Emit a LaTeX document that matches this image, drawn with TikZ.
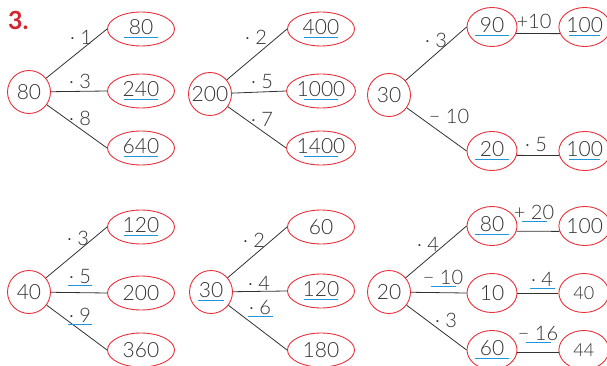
\documentclass[tikz,border=0pt]{standalone}
\usepackage{fontspec}
\setmainfont{Lato}[UprightFont=* Light, BoldFont=* Bold]
\usepackage{xcolor}
\usepackage{tikz}
\usetikzlibrary{positioning,shapes.geometric}

\definecolor{ovalred}{RGB}{232,48,58}
\definecolor{lineblue}{RGB}{30,150,222}
\definecolor{ink}{RGB}{50,50,50}
\definecolor{numred}{RGB}{212,36,48}

% answer written on a blue blank line
\newcommand{\ans}[2][34pt]{\leavevmode\ooalign{#2\cr\hidewidth\textcolor{lineblue}{\rule[-3.2pt]{#1}{1.2pt}}\hidewidth\cr}}

\begin{document}
\begin{tikzpicture}[x=1pt, y=-1pt,
  font=\fontsize{21}{25}\selectfont, text=ink,
  root/.style={draw=ovalred, circle, minimum size=43pt, inner sep=0pt, line width=0.9pt},
  kid/.style={draw=ovalred, ellipse, minimum width=67pt, minimum height=34pt,
              inner sep=0pt, line width=0.9pt},
  slim/.style={kid, minimum width=50pt, minimum height=39pt},
  op/.style={anchor=base, inner sep=0pt, font=\fontsize{20}{24}\selectfont},
  ln/.style={draw=ink, line width=0.8pt},
]
  \useasboundingbox (0,0) rectangle (607,366);

  \node[anchor=base west, inner sep=0pt, text=numred,
        font=\fontsize{25}{30}\selectfont\bfseries] (num) at (8,30) {3.};

  % 80
  \node[root] (a) at (29,92) {80};
  \node[kid] (a1) at (141,29) {\ans{80}};
  \node[kid] (a2) at (141,91) {\ans{240}};
  \node[kid] (a3) at (141,148) {\ans{640}};
  \draw[ln] (a) -- (a1.west);
  \draw[ln] (a) -- (a2.west);
  \draw[ln] (a) -- (a3.west);
  \node[op] (a1l) at (81,45) {· 1};
  \node[op] (a2l) at (80,89) {· 3};
  \node[op] (a3l) at (80,126) {· 8};

  % 200
  \node[root] (b) at (210,94) {200};
  \node[kid] (b1) at (321,29) {\ans{400}};
  \node[kid] (b2) at (321,91) {\ans{1000}};
  \node[kid] (b3) at (321,148) {\ans{1400}};
  \draw[ln] (b) -- (b1.west);
  \draw[ln] (b) -- (b2.west);
  \draw[ln] (b) -- (b3.west);
  \node[op] (b1l) at (256,45) {· 2};
  \node[op] (b2l) at (262,89) {· 5};
  \node[op] (b3l) at (262,127) {· 7};

  % 30 -> 90, 20
  \node[root] (c) at (389,95) {30};
  \node[slim] (c1) at (492,27) {\ans{90}};
  \node[slim, right=41pt of c1] (c11) {\ans[31pt]{100}};
  \node[slim] (c2) at (492,151) {\ans{20}};
  \node[slim, right=41pt of c2] (c21) {\ans[31pt]{100}};
  \draw[ln] (c) -- (c1.west);
  \draw[ln] (c) -- (c2.west);
  \draw[ln] (c1.-15) -- (c11.195);
  \draw[ln] (c2.-10) -- (c21.190);
  \node[op] (c1l) at (436,48) {· 3};
  \node[op] (c2l) at (449,124) {− 10};
  \node[op] (c11l) at (534,29) {+10};
  \node[op] (c21l) at (536,152) {· 5};

  % 40
  \node[root] (d) at (29,292) {40};
  \node[kid] (d1) at (141,227) {\ans{120}};
  \node[kid] (d2) at (141,293) {200};
  \node[kid] (d3) at (141,350) {360};
  \draw[ln] (d) -- (d1.west);
  \draw[ln] (d) -- (d2.west);
  \draw[ln] (d) -- (d3.west);
  \node[op] (d1l) at (78,245) {· 3};
  \node[op] (d2l) at (80,283) {\ans[24pt]{· 5}};
  \node[op] (d3l) at (80,322) {\ans[24pt]{· 9}};

  % 30 -> 60, 120, 180
  \node[root] (e) at (211,292) {\ans[26pt]{30}};
  \node[kid] (e1) at (321,227) {60};
  \node[kid] (e2) at (321,291) {\ans{120}};
  \node[kid] (e3) at (321,350) {180};
  \draw[ln] (e) -- (e1.west);
  \draw[ln] (e) -- (e2.west);
  \draw[ln] (e) -- (e3.west);
  \node[op] (e1l) at (254,247) {· 2};
  \node[op] (e2l) at (259,290) {· 4};
  \node[op] (e3l) at (260,314) {\ans[25pt]{· 6}};

  % 20
  \node[root] (f) at (389,292) {20};
  \node[slim] (f1) at (492,226) {\ans{80}};
  \node[slim, right=41pt of f1] (f11) {100};
  \node[slim] (f2) at (492,293) {10};
  \node[slim, right=41pt of f2, font=\fontsize{18}{21}\selectfont] (f21) {40};
  \node[slim] (f3) at (492,350) {\ans{60}};
  \node[slim, right=41pt of f3, font=\fontsize{18}{21}\selectfont] (f31) {44};
  \draw[ln] (f) -- (f1.west);
  \draw[ln] (f) -- (f2.west);
  \draw[ln] (f) -- (f3.west);
  \draw[ln] (f1.-12) -- (f11.192);
  \draw[ln] (f2.east) -- (f21.west);
  \draw[ln] (f3.-5) -- (f31.185);
  \node[op] (f1l) at (428,251) {· 4};
  \node[op] (f2l) at (443,284) {\ans[25pt]{− 10}};
  \node[op] (f3l) at (446,327) {· 3};
  \node[op] (f11l) at (534,219) {\ans[25pt]{+ 20}};
  \node[op] (f21l) at (542,286) {\ans[25pt]{· 4}};
  \node[op] (f31l) at (538,340) {\ans[25pt]{− 16}};
\end{tikzpicture}
\end{document}
